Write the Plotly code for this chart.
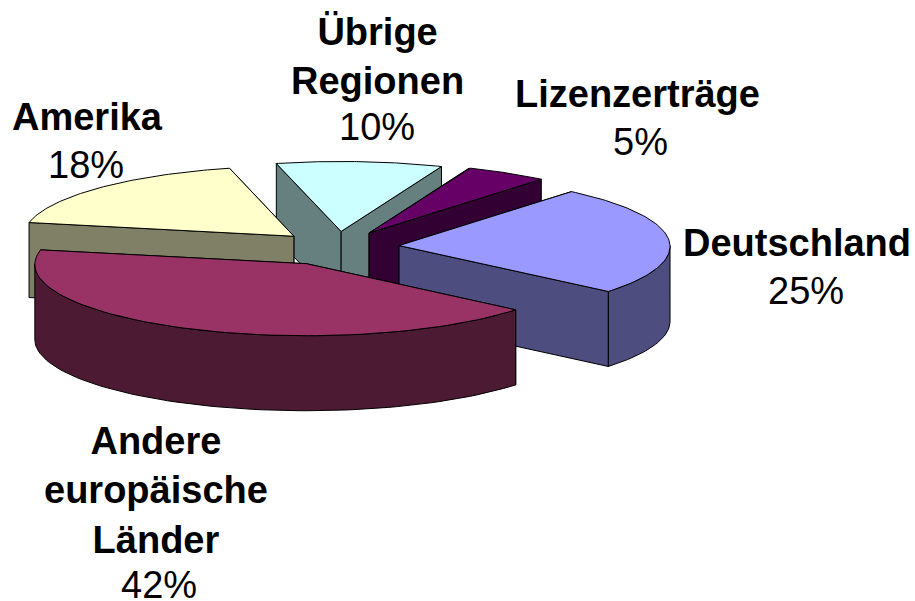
import numpy as np
import plotly.graph_objects as go

categories = ["Deutschland", "Andere<br>europäische<br>Länder", "Amerika", "Übrige<br>Regionen", "Lizenzerträge"]
values = [25, 42, 18, 10, 5]
explode = [0.23, 0.26, 0.22, 0.22, 0.23]
top_colors = ["#9999FF", "#993366", "#FFFFCC", "#CCFFFF", "#660066"]
side_colors = ["#4D4D80", "#4D1A33", "#808066", "#668080", "#330033"]
name_x = [797, 156, 87, 377, 637]
name_y = [243, 490, 117, 56, 94]
pct_x = [806, 159, 86, 377, 640]
pct_y = [291, 585, 165, 127, 142]
draw_order = [3, 4, 2, 0, 1]

START = 50.0
CX, CY = 337.0, 247.0
RX, RY = 271.0, 71.0
DEPTH = 75.0
PERSP = 0.01


def project(u, v, drop=0.0):
    u, v = np.asarray(u, float), np.asarray(v, float)
    s = 1 - PERSP * v
    return CX + RX * u * s, CY - RY * v * s + drop


def poly(fig, x, y, color):
    fig.add_trace(go.Scatter(
        x=np.r_[x, x[0]], y=np.r_[y, y[0]], mode="lines", fill="toself",
        fillcolor=color, line=dict(color="black", width=1),
        hoverinfo="skip", showlegend=False))


fig = go.Figure()
spans = []
a = START
for val in values:
    b = a - val * 3.6
    spans.append((a, b))
    a = b

for i in draw_order:
    a, b = spans[i]
    mid = np.radians((a + b) / 2)
    ou, ov = explode[i] * np.cos(mid), explode[i] * np.sin(mid)
    th = np.radians(np.linspace(a, b, 80))
    u, v = ou + np.cos(th), ov + np.sin(th)
    ax, ay = project(ou, ov)
    ax2, ay2 = project(ou, ov, DEPTH)
    ends = sorted([(u[0], v[0]), (u[-1], v[-1])], key=lambda e: -e[1])
    for ue, ve in ends:
        ex, ey = project(ue, ve)
        ex2, ey2 = project(ue, ve, DEPTH)
        poly(fig, np.array([ax, ex, ex2, ax2]), np.array([ay, ey, ey2, ay2]), side_colors[i])
    near = np.sin(th) <= 0
    if near.any():
        wx, wy = project(u[near], v[near])
        wx2, wy2 = project(u[near], v[near], DEPTH)
        poly(fig, np.r_[wx, wx2[::-1]], np.r_[wy, wy2[::-1]], side_colors[i])
    tx, ty = project(u, v)
    poly(fig, np.r_[ax, tx], np.r_[ay, ty], top_colors[i])

font = dict(family="Liberation Sans", size=38, color="black")
for name, nx, ny in zip(categories, name_x, name_y):
    bold = "<br>".join(f"<b>{p}</b>" for p in name.split("<br>"))
    fig.add_annotation(x=nx, y=ny, xref="x", yref="y", text=bold,
                       showarrow=False, align="center", font=font)
for val, px, py in zip(values, pct_x, pct_y):
    fig.add_annotation(x=px, y=py, xref="x", yref="y", text=f"{val}%",
                       showarrow=False, align="center", font=font)

fig.update_xaxes(range=[0, 915], visible=False, fixedrange=True)
fig.update_yaxes(range=[601, 0], visible=False, fixedrange=True)
fig.update_layout(width=915, height=601, margin=dict(l=0, r=0, t=0, b=0),
                  paper_bgcolor="white", plot_bgcolor="white", showlegend=False)
fig.write_html("out.html", config={"displayModeBar": False},
               post_script="document.body.style.margin='0';document.body.style.overflow='hidden';")
